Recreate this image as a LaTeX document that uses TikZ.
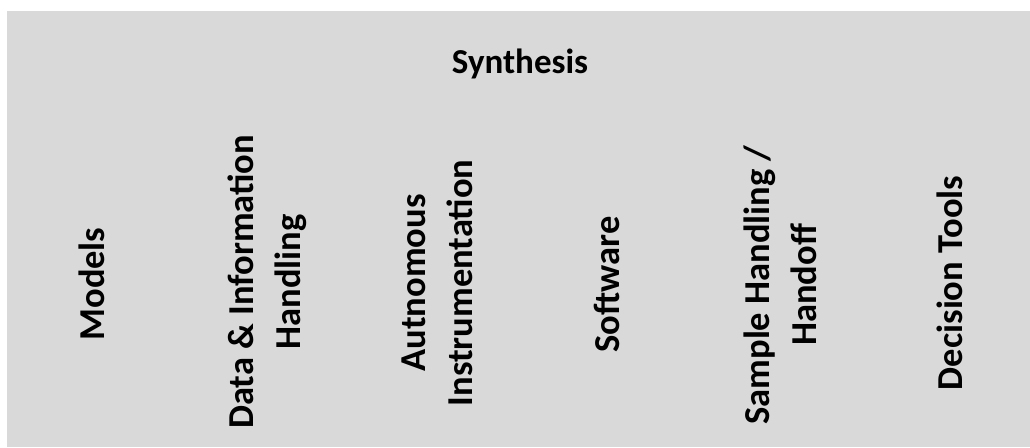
\documentclass[tikz,border=0pt]{standalone}
\usepackage{fontspec}
\setmainfont{Carlito}
\definecolor{panelgray}{HTML}{D9D9D9}
\begin{document}
\begin{tikzpicture}[x=1pt,y=-1pt,
  lbl/.style={font=\bfseries\fontsize{35}{47}\selectfont, inner sep=0pt, align=center},
  vlbl/.style={lbl, font=\bfseries\fontsize{36.5}{47}\selectfont, rotate=90}]
\useasboundingbox (0,0) rectangle (1030,447);
\fill[panelgray] (7,11) rectangle (1030,447);
\node[lbl] (synthesis) at (520,64) {Synthesis};
\node[vlbl] (models) at (92,284) {Models};
\node[vlbl] (data) at (267,282) {Data \& Information\\Handling};
\node[vlbl] (instr) at (437,283) {Autnomous\\Instrumentation};
\node[vlbl] (software) at (607,284.5) {Software};
\node[vlbl] (sample) at (780,285) {Sample Handling /\\Handoff};
\node[vlbl] (decision) at (950,283) {Decision Tools};
\end{tikzpicture}
\end{document}
